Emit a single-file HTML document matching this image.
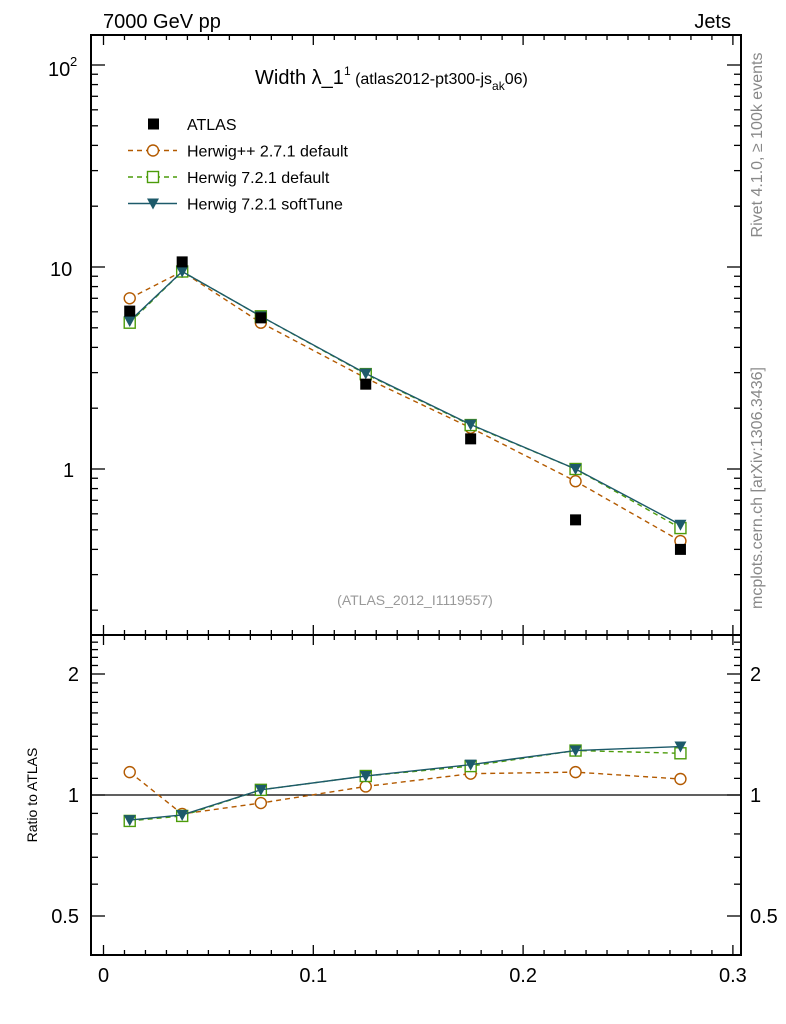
<!DOCTYPE html>
<html><head><meta charset="utf-8"><style>
body{margin:0;background:#fff}
svg{display:block;font-family:"Liberation Sans","DejaVu Sans",sans-serif}
</style></head><body>
<svg id="c" width="786" height="1024" xmlns="http://www.w3.org/2000/svg"></svg>
<script>
const xCenters=[0.0125,0.0375,0.075,0.125,0.175,0.225,0.275];
const atlasVals=[6.05,10.6,5.6,2.63,1.41,0.56,0.40];
const hppVals=[7.0,9.5,5.3,2.82,1.6,0.87,0.44];
const h72Vals=[5.3,9.5,5.7,2.95,1.65,1.0,0.51];
const softVals=[5.4,9.5,5.7,2.97,1.66,1.0,0.53];
const hppRatio=[1.14,0.897,0.955,1.05,1.13,1.14,1.096];
const h72Ratio=[0.862,0.887,1.03,1.115,1.18,1.29,1.27];
const softRatio=[0.866,0.892,1.03,1.115,1.19,1.29,1.32];
const xTicks=[0,0.1,0.2,0.3];
const xTickLabels=["0","0.1","0.2","0.3"];
const ratioTicks=[0.5,1,2];
const ratioTickLabels=["0.5","1","2"];

const NS="http://www.w3.org/2000/svg";
const svg=document.getElementById('c');
const L=91,R=741,T=35,MB=635,RB=955;
function px(x){return 103.5+2098*x;}
function py(v){return 469-202*Math.log10(v);}
function ry(r){return 795-121*Math.log2(r);}
function el(tag,attrs,parent){const e=document.createElementNS(NS,tag);for(const k in attrs)e.setAttribute(k,attrs[k]);(parent||svg).appendChild(e);return e;}
function txt(s,attrs){const e=el('text',attrs);e.textContent=s;return e;}

// frames
let f=el('rect',{x:L,y:T,width:R-L,height:MB-T,fill:'none',stroke:'#000','stroke-width':2});

f=el('rect',{x:L,y:MB,width:R-L,height:RB-MB,fill:'none',stroke:'#000','stroke-width':2});


const tg=el('g',{stroke:'#000','stroke-width':1.3});

// x ticks
for(let i=0;i<=31;i++){const x=px(i*0.01);if(x>R-1)break;const maj=i%10==0;const len=maj?10:5;
 for(const yb of [MB,RB]){el('line',{x1:x,x2:x,y1:yb,y2:yb-len},tg);}
 for(const yt of [T,MB]){el('line',{x1:x,x2:x,y1:yt,y2:yt+len},tg);}
}
// main y ticks
for(let d=-1;d<=2;d++){for(let m=1;m<10;m++){const v=m*Math.pow(10,d);const y=py(v);if(y<T||y>MB)continue;const len=m==1?14:7;
 el('line',{x1:L,x2:L+len,y1:y,y2:y},tg);el('line',{x1:R,x2:R-len,y1:y,y2:y},tg);}}
// ratio y ticks
for(let k=5;k<=25;k++){const v=k/10;const y=ry(v);if(y<MB||y>RB)continue;const maj=(k==5||k==10||k==20);const len=maj?14:7;
 el('line',{x1:L,x2:L+len,y1:y,y2:y},tg);el('line',{x1:R,x2:R-len,y1:y,y2:y},tg);}
// labels
txt('10',{x:48,y:76,'font-size':20,});
txt('2',{x:70,y:66,'font-size':13,});
txt('10',{x:50,y:276,'font-size':20,});
txt('1',{x:63,y:477,'font-size':20,});
ratioTicks.forEach((v,i)=>{
 let t=txt(ratioTickLabels[i],{x:79,y:ry(v)+7,'font-size':20,'text-anchor':'end'});
 
 t=txt(ratioTickLabels[i],{x:750,y:ry(v)+7,'font-size':20});
 
});
xTicks.forEach((v,i)=>{let t=txt(xTickLabels[i],{x:px(v),y:982,'font-size':20,'text-anchor':'middle'});
 });
// unity line
f=el('line',{x1:L,x2:R,y1:ry(1),y2:ry(1),stroke:'#000','stroke-width':1.3});


txt('7000 GeV pp',{x:103,y:28,'font-size':20,});
txt('Jets',{x:731,y:28,'font-size':20,'text-anchor':'end',});
const title=txt('',{x:255,y:84,'font-size':20,});
title.innerHTML='Width λ_1<tspan font-size="12" dy="-9">1</tspan><tspan font-size="16" dy="9"> (atlas2012-pt300-js</tspan><tspan font-size="12" dy="6">ak</tspan><tspan font-size="16" dy="-6">06)</tspan>';
txt('(ATLAS_2012_I1119557)',{x:415,y:605,'font-size':14,fill:'#999','text-anchor':'middle',});
txt('Ratio to ATLAS',{x:0,y:0,'font-size':14,transform:'translate(37,795) rotate(-90)','text-anchor':'middle',});
txt('Rivet 4.1.0, ≥ 100k events',{x:0,y:0,'font-size':16,fill:'#888',transform:'translate(762,145) rotate(-90)','text-anchor':'middle',});
txt('mcplots.cern.ch [arXiv:1306.3436]',{x:0,y:0,'font-size':16,fill:'#888',transform:'translate(762,488) rotate(-90)','text-anchor':'middle',});

const series=[
 {name:'herwigpp',vals:hppVals,ratio:hppRatio,color:'#b35a00',dash:'5,4',mk:'circle'},
 {name:'herwig72-default',vals:h72Vals,ratio:h72Ratio,color:'#4c9c0a',dash:'5,4',mk:'square'},
 {name:'herwig72-softtune',vals:softVals,ratio:softRatio,color:'#1d5a6a',dash:'',mk:'tri'}];
function marker(g,mk,x,y,c){
 if(mk=='circle')return el('circle',{cx:x,cy:y,r:5.5,fill:'#fff',stroke:c,'stroke-width':1.4},g);
 if(mk=='square')return el('rect',{x:x-5.5,y:y-5.5,width:11,height:11,fill:'#fff',stroke:c,'stroke-width':1.4},g);
 return el('polygon',{points:`${x-6},${y-5} ${x+6},${y-5} ${x},${y+6}`,fill:c},g);
}
series.forEach(s=>{
 [[s.vals,py,'main'],[s.ratio,ry,'ratio']].forEach(([arr,fy,pn])=>{
  const g=el('g',{});
  
  const pts=arr.map((v,i)=>px(xCenters[i])+','+fy(v)).join(' ');
  el('polyline',{points:pts,fill:'none',stroke:s.color,'stroke-width':1.4,'stroke-dasharray':s.dash},g);
  arr.forEach((v,i)=>{const m=marker(g,s.mk,px(xCenters[i]),fy(v),s.color);
   });
 });
});
const ag=el('g',{});

atlasVals.forEach((v,i)=>{const r=el('rect',{x:px(xCenters[i])-5.5,y:py(v)-5.5,width:11,height:11,fill:'#000'},ag);
 });

// legend
const lg=el('g',{});

const leg=[['ATLAS',null],['Herwig++ 2.7.1 default',series[0]],['Herwig 7.2.1 default',series[1]],['Herwig 7.2.1 softTune',series[2]]];
leg.forEach((e,i)=>{const y=124+26.5*i;
 const g=el('g',{},lg);
 if(!e[1])el('rect',{x:148,y:y-5.5,width:11,height:11,fill:'#000'},g);
 else{el('line',{x1:128,x2:177,y1:y,y2:y,stroke:e[1].color,'stroke-width':1.4,'stroke-dasharray':e[1].dash},g);marker(g,e[1].mk,153,y,e[1].color);}
 const t=el('text',{x:187,y:y+6,'font-size':16},g);t.textContent=e[0];
});
</script>
</body></html>
